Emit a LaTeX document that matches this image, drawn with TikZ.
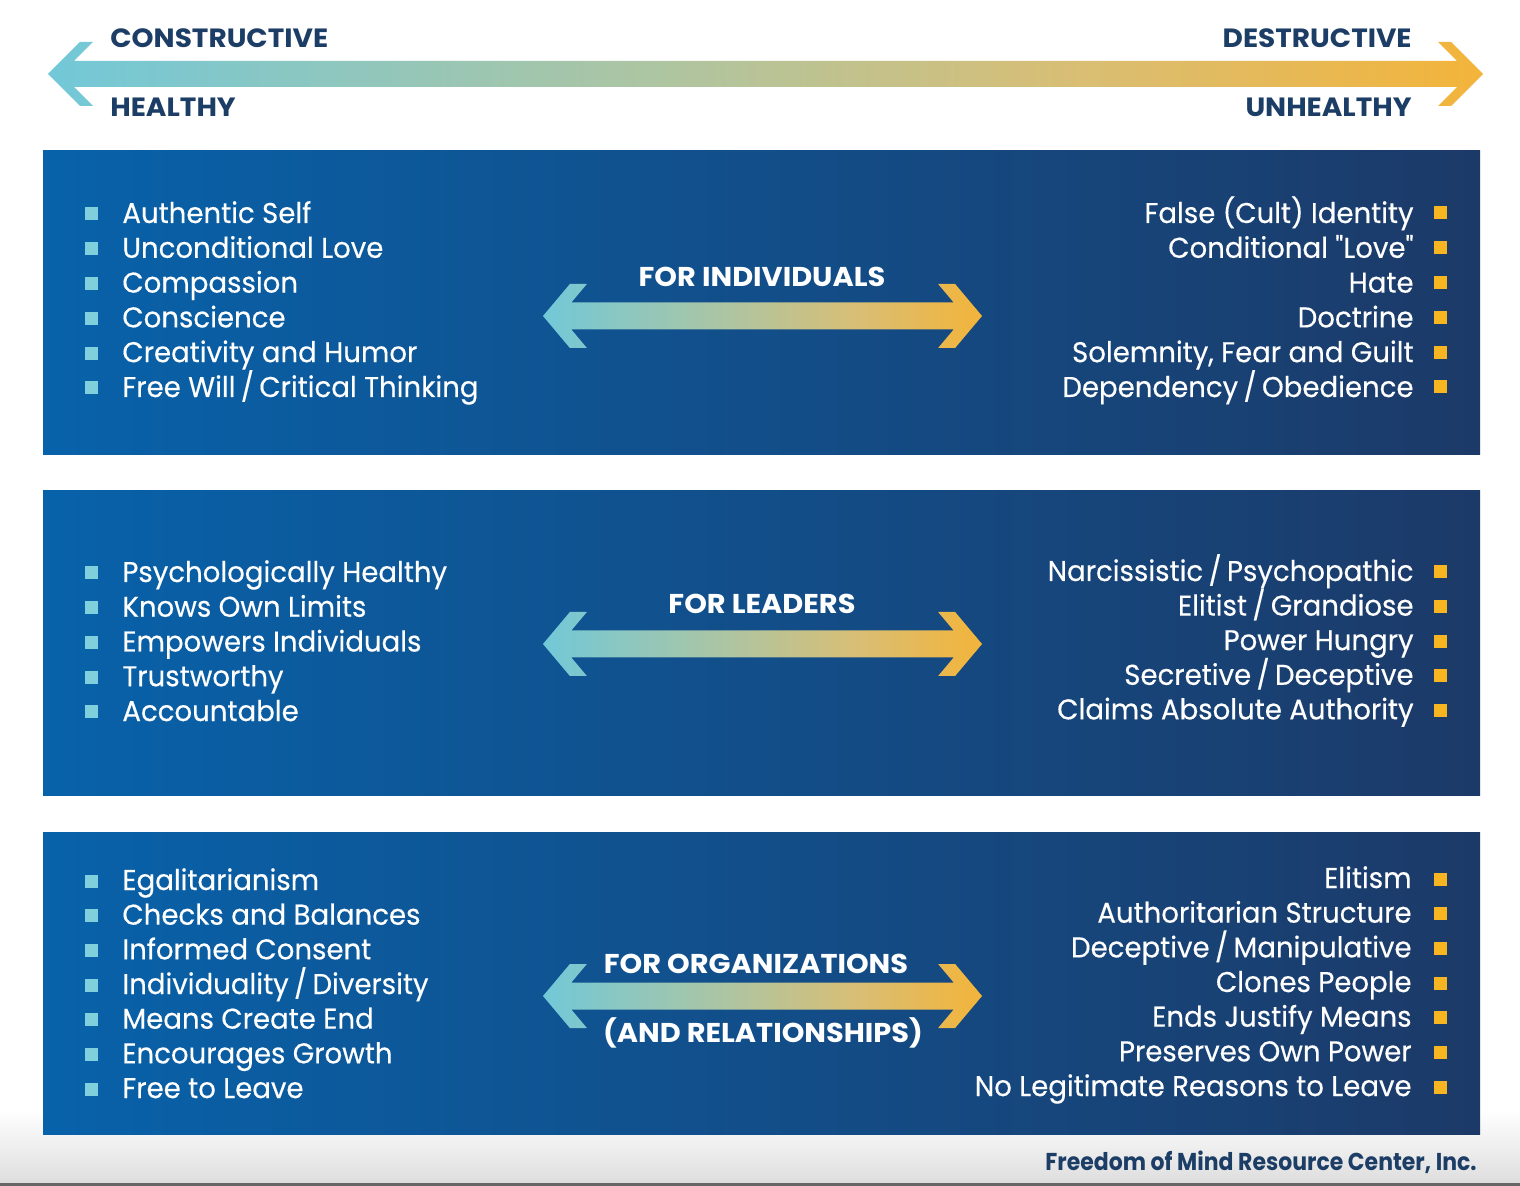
\documentclass[tikz,border=0pt]{standalone}
\usepackage{fontspec}
\setmainfont{Poppins}
\newfontfamily\itemfont[Ligatures=TeXOff, FakeStretch=0.965, FakeBold=0.35]{Poppins}
\newfontfamily\headfont[FakeStretch=1.06]{Poppins}
\newfontfamily\footfont[FakeStretch=0.9]{Poppins}
\newcommand{\slsh}{\kern-0.07em/\kern-0.07em}
\definecolor{navy}{HTML}{1C3D66}
\definecolor{pleft}{HTML}{0862AA}
\definecolor{pright}{HTML}{1C3A68}
\definecolor{acyan}{HTML}{72C8D8}
\definecolor{agreen}{HTML}{ADC5A2}
\definecolor{atan}{HTML}{D9BE74}
\definecolor{aorange}{HTML}{F3B43A}
\definecolor{bcyan}{HTML}{7FD0DC}
\definecolor{borange}{HTML}{F7B521}
\pgfdeclarehorizontalshading{arrowgrad}{100bp}{color(0bp)=(acyan); color(25bp)=(acyan); color(46bp)=(agreen); color(61bp)=(atan); color(75bp)=(aorange); color(100bp)=(aorange)}
\newcommand{\chevarrow}[7]{% lefttip, righttip, centre y, H, h, s, w
  \pgfmathsetmacro\caA{#1+#6*#4}
  \pgfmathsetmacro\caB{\caA+#7}
  \pgfmathsetmacro\caC{\caB-#6*(#4-#5)}
  \pgfmathsetmacro\caD{#2-#6*#4}
  \pgfmathsetmacro\caE{\caD-#7}
  \pgfmathsetmacro\caF{\caE+#6*(#4-#5)}
  \shade[shading=arrowgrad] (#1,#3) -- (\caA,#3-#4) -- (\caB,#3-#4) -- (\caC,#3-#5)
    -- (\caF,#3-#5) -- (\caE,#3-#4) -- (\caD,#3-#4) -- (#2,#3) -- (\caD,#3+#4)
    -- (\caE,#3+#4) -- (\caF,#3+#5) -- (\caC,#3+#5) -- (\caB,#3+#4) -- (\caA,#3+#4) -- cycle;
}
\tikzset{
  item/.style={text=white, inner sep=0pt, font=\itemfont\fontsize{14.3}{17}\selectfont},
  litem/.style={item, anchor=base west},
  ritem/.style={item, anchor=base east},
  lbul/.style={fill=bcyan, minimum size=6.5pt, inner sep=0pt},
  rbul/.style={fill=borange, minimum size=6.5pt, inner sep=0pt},
  head/.style={text=white, inner sep=0pt, anchor=base, font=\headfont\bfseries\fontsize{13.6}{16}\selectfont},
  toplab/.style={text=navy, inner sep=0pt, font=\headfont\bfseries\fontsize{13.2}{16}\selectfont},
  panel/.style={left color=pleft, right color=pright},
}
\begin{document}
\begin{tikzpicture}[x=0.5pt, y=-0.5pt]
\useasboundingbox (0,0) rectangle (1520,1186);
\fill[white] (0,0) rectangle (1520,1186);
% footer background
\shade[top color=white, bottom color=black!13] (0,1110) rectangle (1520,1183);
\fill[black!60] (0,1183) rectangle (1520,1186);
% top arrow
\chevarrow{48}{1483}{74}{32}{13}{1}{13}
\node[toplab, anchor=base west] (constr) at (110,48) {CONSTRUCTIVE};
\node[toplab, anchor=base west] (healthy) at (110,117) {HEALTHY};
\node[toplab, anchor=base east] (destr) at (1412,48) {DESTRUCTIVE};
\node[toplab, anchor=base east] (unhealthy) at (1412,117) {UNHEALTHY};
% panels
\shade[panel] (43,151) rectangle (1480,455);
\shade[panel] (43,491) rectangle (1480,795);
\shade[panel] (43,832) rectangle (1480,1134);
% centre arrows
\chevarrow{543}{982}{316}{32}{13.5}{0.84}{17}
\chevarrow{543}{982}{644}{32}{13.5}{0.84}{17}
\chevarrow{543}{982}{996}{32}{13.5}{0.84}{17}
\node[head] (hind) at (762,287) {FOR INDIVIDUALS};
\node[head] (hlead) at (762,614) {FOR LEADERS};
\node[head] (horg) at (756,973) {FOR ORGANIZATIONS};
\node[head] (hrel) at (763,1042) {(AND RELATIONSHIPS)};
% panel 1
\foreach \t [count=\i] in {Authentic Self, Unconditional Love, Compassion, Conscience, Creativity and Humor, Free Will \slsh{} Critical Thinking}{
  \pgfmathsetmacro\yy{213+34.8*(\i-1)}
  \node[lbul] (ab\i) at (91.5,\yy+1) {};
  \node[litem] (at\i) at (122,\yy+10) {\t};
}
\foreach \t [count=\i] in {False (Cult) Identity, Conditional "Love", Hate, Doctrine, {Solemnity, Fear and Guilt}, Dependency \slsh{} Obedience}{
  \pgfmathsetmacro\yy{213+34.8*(\i-1)}
  \node[rbul] (bb\i) at (1440,\yy) {};
  \node[ritem] (bt\i) at (1414,\yy+10) {\t};
}
% panel 2
\foreach \t [count=\i] in {Psychologically Healthy, Knows Own Limits, Empowers Individuals, Trustworthy, Accountable}{
  \pgfmathsetmacro\yy{572+34.75*(\i-1)}
  \node[lbul] (cb\i) at (91.5,\yy+1) {};
  \node[litem] (ct\i) at (122,\yy+10) {\t};
}
\foreach \t [count=\i] in {Narcissistic \slsh{} Psychopathic, Elitist \slsh{} Grandiose, Power Hungry, Secretive \slsh{} Deceptive, Claims Absolute Authority}{
  \pgfmathsetmacro\yy{571+34.6*(\i-1)}
  \node[rbul] (db\i) at (1440,\yy+1) {};
  \node[ritem] (dt\i) at (1414,\yy+10) {\t};
}
% panel 3
\foreach \t [count=\i] in {Egalitarianism, Checks and Balances, Informed Consent, Individuality \slsh{} Diversity, Means Create End, Encourages Growth, Free to Leave}{
  \pgfmathsetmacro\yy{880+34.67*(\i-1)}
  \node[lbul] (eb\i) at (91.5,\yy+1) {};
  \node[litem] (et\i) at (122,\yy+10) {\t};
}
\foreach \t [count=\i] in {Elitism, Authoritarian Structure, Deceptive \slsh{} Manipulative, Clones People, Ends Justify Means, Preserves Own Power, No Legitimate Reasons to Leave}{
  \pgfmathsetmacro\yy{878+34.67*(\i-1)}
  \node[rbul] (fb\i) at (1440,\yy+1) {};
  \node[ritem] (ft\i) at (1412,\yy+10) {\t};
}
% footer
\node[text=navy, inner sep=0pt, anchor=base east, font=\footfont\bfseries\fontsize{12.2}{14}\selectfont] (foot) at (1477,1170) {Freedom of Mind Resource Center, Inc.};
\end{tikzpicture}
\end{document}
